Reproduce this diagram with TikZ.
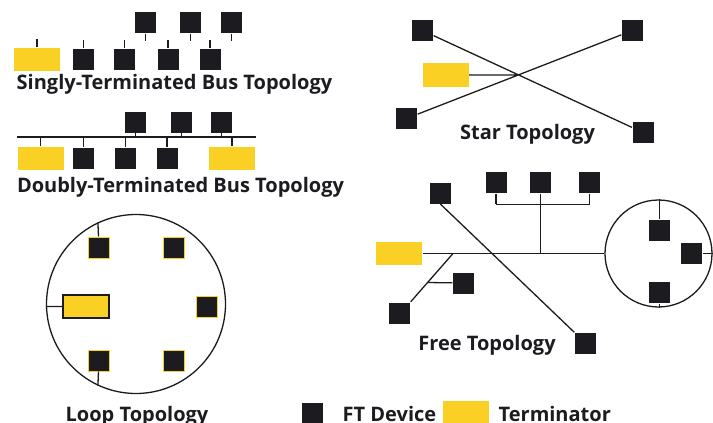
\documentclass[tikz,border=0pt]{standalone}
\usepackage{fontspec}
\setsansfont{Open Sans}
\usetikzlibrary{positioning, calc}
\definecolor{ftblack}{RGB}{28,27,32}
\definecolor{termyellow}{RGB}{249,208,35}

\begin{document}
\begin{tikzpicture}[x=1pt, y=-1pt,
        color = ftblack,
   line width = 1.3pt,
  dev/.style  = {fill=ftblack, inner sep=0pt, minimum width=21pt, minimum height=21pt},
  ldev/.style = {dev, draw=termyellow, line width=1pt},
  term/.style = {fill=termyellow, inner sep=0pt, minimum width=46pt, minimum height=23pt},
  title/.style = {font=\sffamily\bfseries\fontsize{20}{24}\selectfont, anchor=base, inner sep=0pt}]
  \useasboundingbox (0,0) rectangle (713,423);

  % singly-terminated bus
  \node[term] (st) at (37,59.5) {};
  \draw (st.north) -- ++(0,-8);
  \foreach \x [count=\i] in {83.5,124.5,168,210}
    {\node[dev] (sd\i) at (\x,59) {}; \draw (sd\i.north) -- ++(0,-8);}
  \foreach \x [count=\i] in {145.5,190.5,231.5}
    {\node[dev] (su\i) at (\x,22.5) {}; \draw (su\i.south) -- ++(0,7);}
  \node[title] (singly) at (174.5,89) {Singly-Terminated Bus Topology};

  % doubly-terminated bus
  \coordinate (busL) at (17,137);
  \coordinate (busR) at (256,137);
  \draw (busL) -- (busR);
  \node[term] (dtl) at (40.5,158) {};
  \node[term] (dtr) at (232,158) {};
  \draw (dtl.north) -- (dtl.north |- busL)
        (dtr.north) -- (dtr.north |- busL);
  \foreach \x [count=\i] in {83.5,125.5,167}
    {\node[dev] (dd\i) at (\x,158) {}; \draw (dd\i.north) -- (dd\i.north |- busL);}
  \foreach \x [count=\i] in {135.5,181.5,221.5}
    {\node[dev] (du\i) at (\x,122) {}; \draw (du\i.south) -- (du\i.south |- busL);}
  \node[title] (doubly) at (180.5,192) {Doubly-Terminated Bus Topology};

  % star
  \node[dev]  (s1) at (422.5,30.5) {};
  \node[dev]  (s2) at (632.5,30.5) {};
  \node[dev]  (s3) at (406.5,118.5) {};
  \node[dev]  (s4) at (643,132.5) {};
  \node[term, minimum height=24pt] (sterm) at (445.5,75) {};
  \coordinate (hub) at (518.5,75);
  \draw (s1) -- (s4)
        (s3) -- (s2)
        (sterm) -- (hub);
  \node[title] (star) at (527.5,139) {Star Topology};

  % free
  \node[term] (fterm) at (399,253.5) {};
  \node[circle, draw, inner sep=0pt, minimum size=107pt] (fring) at (658.5,253.5) {};
  \draw (fterm) -- (fring);
  \foreach \x [count=\i] in {496,540.5,589.5}
    {\node[dev] (ft\i) at (\x,182.5) {}; \draw (ft\i.south) -- ++(0,10.5);}
  \draw (ft1.south) ++(0,10.5) -- ($(ft3.south)+(0,10.5)$);
  \draw (ft2.south) -- (ft2.south |- fterm);
  \node[dev] (fu) at (440.5,193) {};
  \node[dev] (fr) at (585.5,343.5) {};
  \draw (fu.south) -- (fr.north west);
  \coordinate (fj) at (453,253.5);
  \node[dev] (fbl) at (399.5,313) {};
  \node[dev] (fbm) at (463.5,283) {};
  \draw (fj) -- (fbl.north east);
  \draw ($(fj)!0.6!(fbl.north east)$) -- (fbm);
  \node[dev] (fc1) at (659.5,230.5) {};
  \node[dev] (fc2) at (691.5,253.5) {};
  \node[dev] (fc3) at (659.5,292.5) {};
  \draw (fc1.north) -- (fc1.north |- fring.north)
        (fc2.east) -- (fring.east)
        (fc3.south) -- (fc3.south |- fring.south);
  \node[title] (free) at (487,350) {Free Topology};

  % loop
  \node[circle, draw, inner sep=0pt, minimum size=179pt] (lring) at (136,304) {};
  \node[ldev] (l1) at (98.5,247.5) {};
  \node[ldev] (l2) at (173.5,247.5) {};
  \node[ldev] (l3) at (206.5,306.5) {};
  \node[ldev] (l4) at (98.5,360.5) {};
  \node[ldev] (l5) at (173.5,360.5) {};
  \node[term, draw] (lterm) at (86,306.5) {};
  \draw (l1.north) -- (lring.115)
        (l4.south) -- (lring.245)
        (lterm.west) -- (lterm.west -| lring.west);
  \node[title] (loop) at (137,421) {Loop Topology};

  % legend
  \node[dev, minimum height=20pt] (keydev) at (312,413) {};
  \node[title, anchor=base west] (keydevtxt) at (342,421) {FT Device};
  \node[term, minimum height=22pt] (keyterm) at (466,412) {};
  \node[title, anchor=base west] (keytermtxt) at (498,421) {Terminator};
\end{tikzpicture}
\end{document}
